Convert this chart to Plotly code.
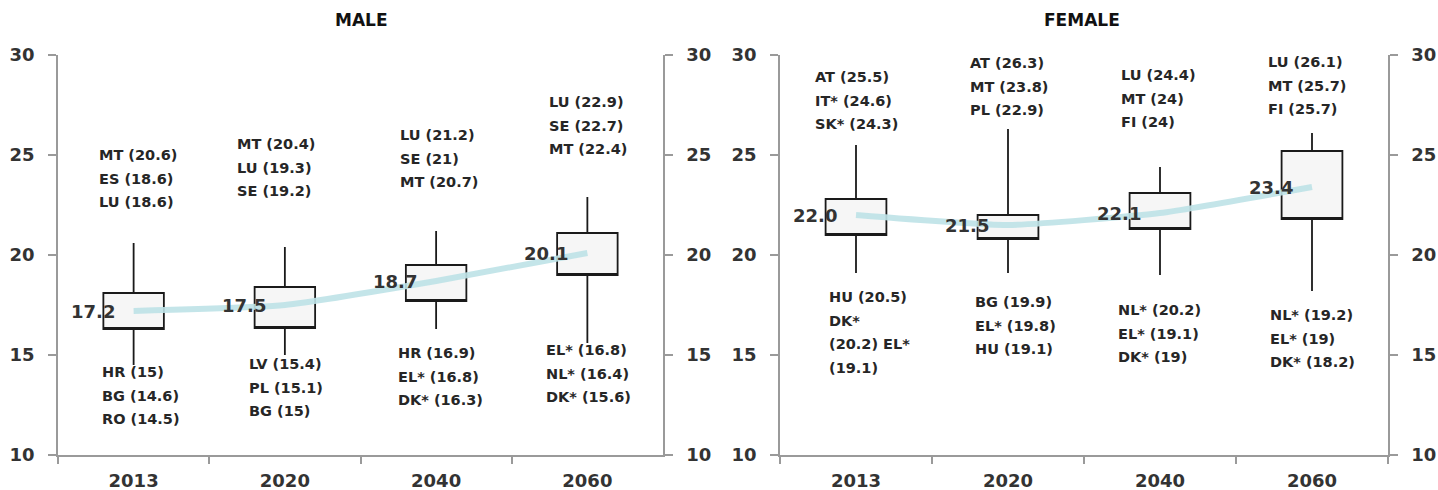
import plotly.graph_objects as go

# Projection years shared by both panels
years = ["2013", "2020", "2040", "2060"]

# Box edges (first and third quartile) per year
male_q1 = [16.3, 16.35, 17.7, 19.0]
male_q3 = [18.1, 18.4, 19.5, 21.1]
female_q1 = [21.0, 20.8, 21.3, 21.8]
female_q3 = [22.8, 22.0, 23.1, 25.2]

# EU averages
male_mean = [17.2, 17.5, 18.7, 20.1]
female_mean = [22.0, 21.5, 22.1, 23.4]

# Three highest / three lowest countries per year
male_top_countries = [["MT", "ES", "LU"], ["MT", "LU", "SE"], ["LU", "SE", "MT"], ["LU", "SE", "MT"]]
male_top_values = [[20.6, 18.6, 18.6], [20.4, 19.3, 19.2], [21.2, 21, 20.7], [22.9, 22.7, 22.4]]
male_low_countries = [["HR", "BG", "RO"], ["LV", "PL", "BG"], ["HR", "EL*", "DK*"], ["EL*", "NL*", "DK*"]]
male_low_values = [[15, 14.6, 14.5], [15.4, 15.1, 15], [16.9, 16.8, 16.3], [16.8, 16.4, 15.6]]

female_top_countries = [["AT", "IT*", "SK*"], ["AT", "MT", "PL"], ["LU", "MT", "FI"], ["LU", "MT", "FI"]]
female_top_values = [[25.5, 24.6, 24.3], [26.3, 23.8, 22.9], [24.4, 24, 24], [26.1, 25.7, 25.7]]
female_low_countries = [["HU", "DK*", "EL*"], ["BG", "EL*", "HU"], ["NL*", "EL*", "DK*"], ["NL*", "EL*", "DK*"]]
female_low_values = [[20.5, 20.2, 19.1], [19.9, 19.8, 19.1], [20.2, 19.1, 19], [19.2, 19, 18.2]]

FONT = "DejaVu Sans"
INK = "#262626"
AXIS_GREY = "#9a9a9a"
LINE_STEP = 23.5  # px between label lines

fig = go.Figure()


def add_panel(xa, ya, yr, q1, q3, tops, topv, lows, lowv, mean):
    upper = [max(v) for v in topv]
    lower = [min(v) for v in lowv]
    fig.add_trace(go.Box(
        x=years, q1=q1, median=q1, q3=q3,
        lowerfence=lower, upperfence=upper,
        width=0.4, whiskerwidth=0,
        fillcolor="#f6f6f6",
        line=dict(color="#1a1a1a", width=1.8),
        boxpoints=False, showlegend=False, hoverinfo="skip",
        xaxis=xa, yaxis=ya,
    ))
    fig.add_trace(go.Scatter(
        x=years, y=mean, mode="lines",
        line=dict(color="rgba(190,226,231,0.9)", width=6, shape="spline", smoothing=0.5),
        showlegend=False, hoverinfo="skip",
        xaxis=xa, yaxis=yr,
    ))
    for i, m in enumerate(mean):
        fig.add_annotation(
            x=i, y=m, xref=xa, yref=ya, text=f"{m:.1f}", showarrow=False,
            xanchor="right", yanchor="middle", xshift=-17,
            font=dict(family=FONT, size=18, color="#333333", weight="bold"),
        )


def label_lines(countries, values, split=None):
    if split is None:
        return [f"{c} ({v:g})" for c, v in zip(countries, values)]
    tokens = []
    for c, v in zip(countries, values):
        tokens += [c, f"({v:g})"]
    lines, k = [], 0
    for n in split:
        lines.append(" ".join(tokens[k:k + n]))
        k += n
    return lines


def add_labels(xa, ya, idx, lines, x_off, y_first):
    for j, t in enumerate(lines):
        fig.add_annotation(
            x=idx + x_off, y=y_first, xref=xa, yref=ya, text=t, showarrow=False,
            xanchor="left", yanchor="middle", yshift=-j * LINE_STEP,
            font=dict(family=FONT, size=14.5, color=INK, weight="bold"),
        )


add_panel("x", "y", "y3", male_q1, male_q3, male_top_countries, male_top_values,
          male_low_countries, male_low_values, male_mean)
add_panel("x2", "y2", "y4", female_q1, female_q3, female_top_countries, female_top_values,
          female_low_countries, female_low_values, female_mean)

# Label block placement: (x offset from category centre, y of first line)
male_top_pos = [(-0.24, 25.0), (-0.33, 25.55), (-0.25, 26.0), (-0.27, 27.65)]
male_low_pos = [(-0.22, 14.15), (-0.25, 14.55), (-0.265, 15.1), (-0.29, 15.25)]
female_top_pos = [(-0.28, 28.9), (-0.26, 29.6), (-0.27, 29.0), (-0.30, 29.65)]
female_low_pos = [(-0.19, 17.9), (-0.23, 17.65), (-0.29, 17.25), (-0.29, 17.0)]

for i in range(4):
    add_labels("x", "y", i, label_lines(male_top_countries[i], male_top_values[i]), *male_top_pos[i])
    add_labels("x", "y", i, label_lines(male_low_countries[i], male_low_values[i]), *male_low_pos[i])
    add_labels("x2", "y2", i, label_lines(female_top_countries[i], female_top_values[i]), *female_top_pos[i])
    split = [2, 1, 2, 1] if i == 0 else None
    add_labels("x2", "y2", i, label_lines(female_low_countries[i], female_low_values[i], split), *female_low_pos[i])

W, H = 1438, 490
ydom = [1 - 455 / H, 1 - 55 / H]
tickfont = dict(family=FONT, size=18, color="#333333", weight="bold")

xcommon = dict(
    type="category", categoryorder="array", categoryarray=years, range=[-0.5, 3.5],
    showline=True, linecolor=AXIS_GREY, linewidth=1.5,
    ticks="outside", tickson="boundaries", ticklen=7, tickcolor=AXIS_GREY, tickwidth=1.5,
    showgrid=False, zeroline=False, tickfont=tickfont, ticklabelstandoff=9,
    automargin=False,
)
ycommon = dict(
    range=[10, 30], tickvals=[10, 15, 20, 25, 30], domain=ydom,
    showline=True, linecolor=AXIS_GREY, linewidth=1.5,
    ticks="outside", ticklen=8, tickcolor=AXIS_GREY, tickwidth=1.5,
    showgrid=False, zeroline=False, tickfont=tickfont, ticklabelstandoff=10,
    automargin=False,
)

fig.update_layout(
    width=W, height=H,
    margin=dict(l=0, r=0, t=0, b=0, autoexpand=False),
    paper_bgcolor="white", plot_bgcolor="white",
    showlegend=False,
    xaxis=dict(domain=[58 / W, 663 / W], anchor="y", **xcommon),
    xaxis2=dict(domain=[780 / W, 1388 / W], anchor="y2", **xcommon),
    yaxis=dict(anchor="x", side="left", **ycommon),
    yaxis2=dict(anchor="x2", side="left", **ycommon),
    yaxis3=dict(anchor="x", side="right", overlaying="y", **ycommon),
    yaxis4=dict(anchor="x2", side="right", overlaying="y2", **ycommon),
    annotations=list(fig.layout.annotations) + [
        dict(text="MALE", x=361 / W, y=1 - 20 / H, xref="paper", yref="paper",
             showarrow=False, xanchor="center", yanchor="middle",
             font=dict(family=FONT, size=17, color="#111111", weight="bold")),
        dict(text="FEMALE", x=1082 / W, y=1 - 20 / H, xref="paper", yref="paper",
             showarrow=False, xanchor="center", yanchor="middle",
             font=dict(family=FONT, size=17, color="#111111", weight="bold")),
    ],
)

fig.write_html("out.html")
